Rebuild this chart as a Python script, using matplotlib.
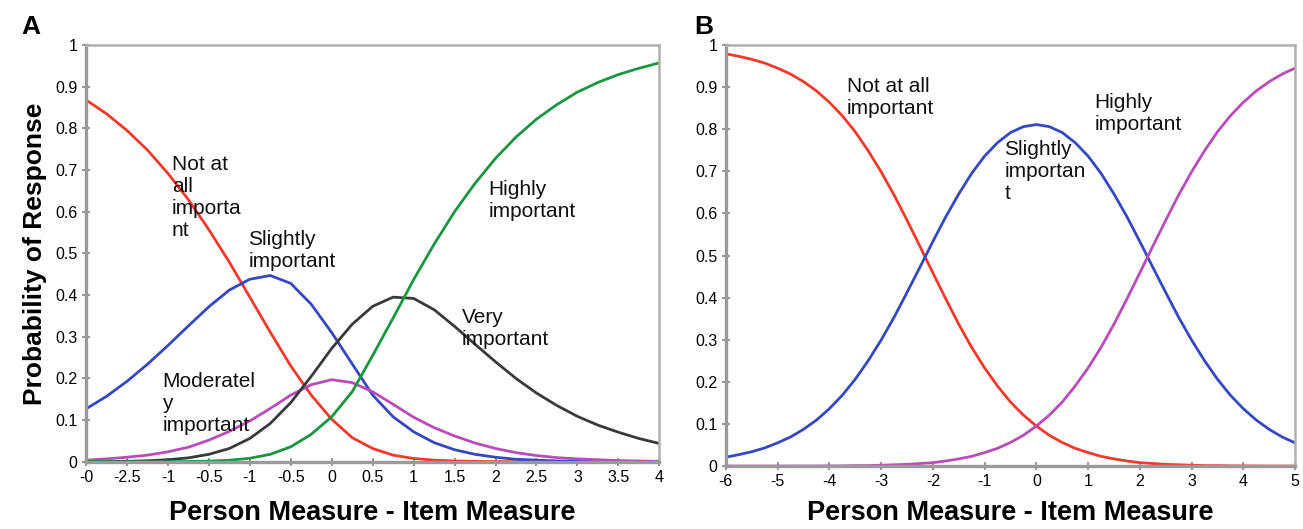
import matplotlib
matplotlib.use("Agg")
import matplotlib.pyplot as plt

plt.rcParams["font.family"] = ["Liberation Sans", "DejaVu Sans"]

# Panel A: five response categories
xA = [-3, -2.75, -2.5, -2.25, -2, -1.75, -1.5, -1.25, -1, -0.75, -0.5, -0.25, 0,
      0.25, 0.5, 0.75, 1, 1.25, 1.5, 1.75, 2, 2.25, 2.5, 2.75, 3, 3.25, 3.5, 3.75, 4]
a_not = [0.868, 0.835, 0.795, 0.748, 0.692, 0.629, 0.557, 0.479, 0.395, 0.311, 0.230, 0.160, 0.102,
         0.058, 0.032, 0.016, 0.008, 0.004, 0.002, 0.001, 0.0005, 0.0003, 0.0002, 0.0001, 0, 0, 0, 0, 0]
a_slight = [0.127, 0.157, 0.193, 0.234, 0.279, 0.326, 0.372, 0.412, 0.438, 0.447, 0.428, 0.378, 0.310,
            0.235, 0.160, 0.108, 0.072, 0.046, 0.029, 0.018, 0.011, 0.006, 0.004, 0.002, 0.001,
            0.0005, 0.0003, 0.0002, 0.0001]
a_moder = [0.004, 0.007, 0.011, 0.016, 0.024, 0.035, 0.052, 0.073, 0.098, 0.128, 0.160, 0.185, 0.197,
           0.190, 0.168, 0.138, 0.107, 0.082, 0.062, 0.045, 0.032, 0.022, 0.015, 0.010, 0.007,
           0.005, 0.003, 0.002, 0.001]
a_very = [0.0003, 0.0006, 0.0013, 0.0025, 0.005, 0.0095, 0.018, 0.032, 0.056, 0.092, 0.142, 0.205, 0.272,
          0.330, 0.373, 0.395, 0.392, 0.365, 0.325, 0.282, 0.240, 0.200, 0.165, 0.135, 0.109,
          0.088, 0.071, 0.056, 0.044]
a_high = [0, 0, 0, 0.0001, 0.0003, 0.0007, 0.0016, 0.0038, 0.0085, 0.018, 0.036, 0.066, 0.108,
          0.168, 0.255, 0.345, 0.437, 0.522, 0.600, 0.668, 0.728, 0.779, 0.822, 0.857, 0.887,
          0.910, 0.929, 0.944, 0.957]

# Panel B: three response categories
xB = [-6, -5.75, -5.5, -5.25, -5, -4.75, -4.5, -4.25, -4, -3.75, -3.5, -3.25, -3,
      -2.75, -2.5, -2.25, -2, -1.75, -1.5, -1.25, -1, -0.75, -0.5, -0.25, 0,
      0.25, 0.5, 0.75, 1, 1.25, 1.5, 1.75, 2, 2.25, 2.5, 2.75, 3,
      3.25, 3.5, 3.75, 4, 4.25, 4.5, 4.75, 5]
b_not = [0.979, 0.973, 0.966, 0.957, 0.945, 0.931, 0.913, 0.891, 0.864, 0.832, 0.794, 0.749, 0.699,
         0.644, 0.584, 0.522, 0.459, 0.397, 0.337, 0.282, 0.233, 0.190, 0.152, 0.121, 0.095,
         0.073, 0.056, 0.042, 0.032, 0.023, 0.017, 0.012, 0.008, 0.006, 0.004, 0.003, 0.002,
         0.001, 0.001, 0.0005, 0.0003, 0.0002, 0.0001, 0.0001, 0]
b_slight = [0.021, 0.027, 0.034, 0.043, 0.055, 0.069, 0.087, 0.109, 0.136, 0.168, 0.206, 0.250, 0.299,
            0.353, 0.412, 0.472, 0.533, 0.592, 0.646, 0.695, 0.736, 0.768, 0.792, 0.806, 0.811,
            0.806, 0.792, 0.768, 0.736, 0.695, 0.646, 0.592, 0.533, 0.472, 0.412, 0.353, 0.299,
            0.250, 0.206, 0.168, 0.136, 0.109, 0.087, 0.069, 0.055]
b_high = [0, 0, 0, 0, 0, 0.0001, 0.0001, 0.0002, 0.0003, 0.0005, 0.001, 0.001, 0.002,
          0.003, 0.004, 0.006, 0.008, 0.012, 0.017, 0.023, 0.032, 0.042, 0.056, 0.073, 0.095,
          0.121, 0.152, 0.190, 0.233, 0.282, 0.337, 0.397, 0.459, 0.522, 0.584, 0.644, 0.699,
          0.749, 0.794, 0.832, 0.864, 0.891, 0.913, 0.931, 0.945]

xticksA = [-3, -2.5, -2, -1.5, -1, -0.5, 0, 0.5, 1, 1.5, 2, 2.5, 3, 3.5, 4]
xlabelsA = ["-0", "-2.5", "-1", "-0.5", "-1", "-0.5", "0", "0.5", "1", "1.5", "2", "2.5", "3", "3.5", "4"]
xticksB = [-6, -5, -4, -3, -2, -1, 0, 1, 2, 3, 4, 5]
yticks = [0, 0.1, 0.2, 0.3, 0.4, 0.5, 0.6, 0.7, 0.8, 0.9, 1]
ylabels = ["0", "0.1", "0.2", "0.3", "0.4", "0.5", "0.6", "0.7", "0.8", "0.9", "1"]

RED = "#f03a2c"
BLUE = "#3548c0"
PURPLE = "#b94cb8"
DARK = "#3a3a3a"
GREEN = "#1a9640"
GRAY = "#9a9a9a"
LW = 2.0


def style_axes(ax, xticks, xlabels, pad):
    ax.set_ylim(0, 1)
    ax.set_xlim(xticks[0], xticks[-1])
    ax.set_xticks(xticks)
    ax.set_xticklabels(xlabels)
    ax.set_yticks(yticks)
    ax.set_yticklabels(ylabels)
    for side in ["left", "bottom"]:
        ax.spines[side].set_color(GRAY)
        ax.spines[side].set_linewidth(2.4)
    for side in ["top", "right"]:
        ax.spines[side].set_color("#b0b0b0")
        ax.spines[side].set_linewidth(1.8)
    ax.tick_params(direction="inout", length=6, width=1.5, color=GRAY,
                   labelsize=11.5, pad=3)
    ax.set_xlabel("Person Measure - Item Measure", fontsize=19.5, fontweight="bold", labelpad=pad)


fig = plt.figure(figsize=(13.03, 5.29), dpi=100)
axA = fig.add_axes([0.066, 0.127, 0.440, 0.788])
axB = fig.add_axes([0.557, 0.119, 0.437, 0.796])

axA.plot(xA, a_not, color=RED, lw=LW)
axA.plot(xA, a_slight, color=BLUE, lw=LW)
axA.plot(xA, a_moder, color=PURPLE, lw=LW)
axA.plot(xA, a_very, color=DARK, lw=LW)
axA.plot(xA, a_high, color=GREEN, lw=LW)
style_axes(axA, xticksA, xlabelsA, 11)
axA.set_ylabel("Probability of Response", fontsize=19, fontweight="bold", labelpad=6)

txt = dict(fontsize=15, va="top", ha="left", color="#111111", linespacing=1.2)
axA.text(-1.95, 0.735, "Not at\nall\nimporta\nnt", **txt)
axA.text(-1.02, 0.555, "Slightly\nimportant", **txt)
axA.text(-2.07, 0.215, "Moderatel\ny\nimportant", **txt)
axA.text(1.59, 0.37, "Very\nimportant", **txt)
axA.text(1.91, 0.675, "Highly\nimportant", **txt)

axB.plot(xB, b_not, color=RED, lw=LW)
axB.plot(xB, b_slight, color=BLUE, lw=LW)
axB.plot(xB, b_high, color=PURPLE, lw=LW)
style_axes(axB, xticksB, [str(v) for v in xticksB], 8)

axB.text(-3.66, 0.925, "Not at all\nimportant", **txt)
axB.text(-0.62, 0.775, "Slightly\nimportan\nt", **txt)
axB.text(1.12, 0.885, "Highly\nimportant", **txt)

fig.text(0.016, 0.935, "A", fontsize=19, fontweight="bold")
fig.text(0.533, 0.935, "B", fontsize=19, fontweight="bold")

fig.savefig("out.png", dpi=100)
